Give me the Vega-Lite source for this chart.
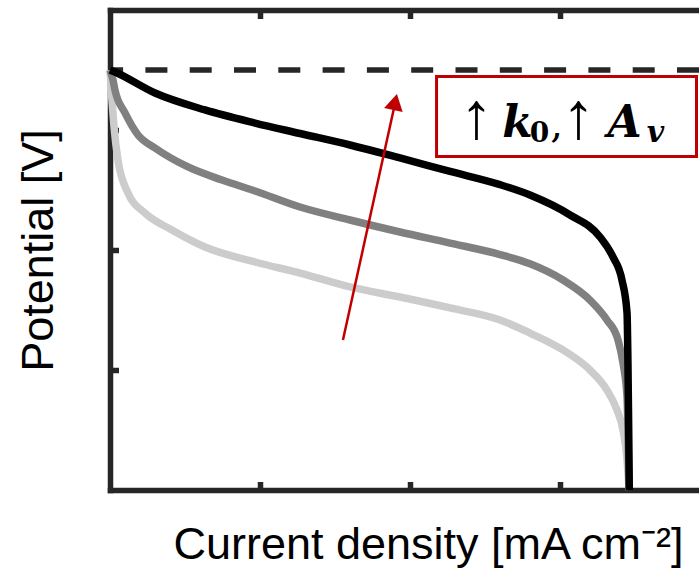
{
  "$schema": "https://vega.github.io/schema/vega-lite/v6.json",
  "width": 589,
  "height": 480,
  "autosize": {"type": "none"},
  "padding": {"left": 110, "top": 10, "right": 0, "bottom": 90},
  "background": "white",
  "config": {
    "view": {"stroke": null},
    "font": "Liberation Sans",
    "axis": {
      "domainColor": "#262626",
      "domainWidth": 5.5,
      "domainCap": "square",
      "tickColor": "#262626",
      "tickWidth": 5.5,
      "tickSize": -8.5,
      "labels": false,
      "grid": false,
      "titleFont": "Liberation Sans",
      "titleFontSize": 45,
      "titleFontWeight": "normal",
      "titleColor": "#000000"
    }
  },
  "datasets": {
    "curves": [
      {"series": "a", "j": 0, "v": 3.5},
      {"series": "a", "j": 0.013, "v": 3.25},
      {"series": "a", "j": 0.027, "v": 3.025},
      {"series": "a", "j": 0.053, "v": 2.75},
      {"series": "a", "j": 0.12, "v": 2.475},
      {"series": "a", "j": 0.233, "v": 2.308},
      {"series": "a", "j": 0.413, "v": 2.167},
      {"series": "a", "j": 0.633, "v": 2.025},
      {"series": "a", "j": 0.967, "v": 1.9},
      {"series": "a", "j": 1.267, "v": 1.808},
      {"series": "a", "j": 1.6, "v": 1.692},
      {"series": "a", "j": 1.933, "v": 1.608},
      {"series": "a", "j": 2.267, "v": 1.517},
      {"series": "a", "j": 2.6, "v": 1.417},
      {"series": "a", "j": 2.8, "v": 1.308},
      {"series": "a", "j": 3.02, "v": 1.167},
      {"series": "a", "j": 3.2, "v": 1.0},
      {"series": "a", "j": 3.313, "v": 0.833},
      {"series": "a", "j": 3.38, "v": 0.667},
      {"series": "a", "j": 3.42, "v": 0.5},
      {"series": "a", "j": 3.447, "v": 0.25},
      {"series": "a", "j": 3.46, "v": 0},
      {"series": "b", "j": 0, "v": 3.5},
      {"series": "b", "j": 0.02, "v": 3.417},
      {"series": "b", "j": 0.033, "v": 3.333},
      {"series": "b", "j": 0.1, "v": 3.142},
      {"series": "b", "j": 0.187, "v": 2.958},
      {"series": "b", "j": 0.3, "v": 2.85},
      {"series": "b", "j": 0.52, "v": 2.692},
      {"series": "b", "j": 0.747, "v": 2.583},
      {"series": "b", "j": 0.967, "v": 2.492},
      {"series": "b", "j": 1.267, "v": 2.358},
      {"series": "b", "j": 1.6, "v": 2.25},
      {"series": "b", "j": 1.933, "v": 2.15},
      {"series": "b", "j": 2.267, "v": 2.058},
      {"series": "b", "j": 2.6, "v": 1.962},
      {"series": "b", "j": 2.8, "v": 1.885},
      {"series": "b", "j": 3.02, "v": 1.75},
      {"series": "b", "j": 3.2, "v": 1.583},
      {"series": "b", "j": 3.313, "v": 1.417},
      {"series": "b", "j": 3.387, "v": 1.25},
      {"series": "b", "j": 3.42, "v": 1.058},
      {"series": "b", "j": 3.447, "v": 0.775},
      {"series": "b", "j": 3.453, "v": 0.5},
      {"series": "b", "j": 3.46, "v": 0},
      {"series": "c", "j": 0, "v": 3.5},
      {"series": "c", "j": 0.033, "v": 3.483},
      {"series": "c", "j": 0.3, "v": 3.308},
      {"series": "c", "j": 0.633, "v": 3.167},
      {"series": "c", "j": 0.967, "v": 3.058},
      {"series": "c", "j": 1.267, "v": 2.971},
      {"series": "c", "j": 1.6, "v": 2.875},
      {"series": "c", "j": 1.933, "v": 2.767},
      {"series": "c", "j": 2.267, "v": 2.655},
      {"series": "c", "j": 2.6, "v": 2.545},
      {"series": "c", "j": 2.8, "v": 2.458},
      {"series": "c", "j": 3.067, "v": 2.292},
      {"series": "c", "j": 3.267, "v": 2.108},
      {"series": "c", "j": 3.353, "v": 1.942},
      {"series": "c", "j": 3.413, "v": 1.75},
      {"series": "c", "j": 3.447, "v": 1.475},
      {"series": "c", "j": 3.453, "v": 1.058},
      {"series": "c", "j": 3.458, "v": 0.5},
      {"series": "c", "j": 3.462, "v": 0}
    ],
    "ref": [{"v": 3.5}],
    "arrow": [{"x0": 1.553, "y0": 1.25, "x1": 1.9, "y1": 3.22, "tipx": 1.901, "tipy": 3.233}],
    "box": [{"bx0": 2.177, "bx1": 3.91, "by0": 3.446, "by1": 2.779}],
    "label": [{"lx": 2.4433, "ly": 2.9417}]
  },
  "layer": [
    {
      "data": {"name": "ref"},
      "mark": {"type": "rule", "color": "#262626", "strokeWidth": 5.5, "strokeDash": [22, 22.3]},
      "encoding": {
        "y": {"field": "v", "type": "quantitative", "scale": {"domain": [0, 4], "nice": false}, "axis": null}
      }
    },
    {
      "data": {"name": "curves"},
      "mark": {"type": "line", "interpolate": "monotone", "strokeWidth": 7.5},
      "encoding": {
        "x": {
          "field": "j", "type": "quantitative",
          "scale": {"domain": [0, 3.92667], "nice": false, "zero": false},
          "axis": {"orient": "bottom", "values": [1, 2, 3], "title": "Current density [mA cm⁻²]",
                   "titleX": 318, "titleY": 68, "titleAlign": "center", "titleBaseline": "alphabetic", "titleAngle": 0}
        },
        "y": {
          "field": "v", "type": "quantitative",
          "scale": {"domain": [0, 4], "nice": false},
          "axis": {"orient": "left", "values": [1, 2, 3], "title": "Potential [V]",
                   "titleX": -58, "titleY": 240, "titleAlign": "center", "titleBaseline": "alphabetic", "titleAngle": -90}
        },
        "color": {"field": "series", "type": "nominal", "scale": {"domain": ["a", "b", "c"], "range": ["#cccccc", "#808080", "#000000"]}, "legend": null}
      }
    },
    {
      "data": {"name": "arrow"},
      "mark": {"type": "rule", "color": "#c00000", "strokeWidth": 2.5},
      "encoding": {
        "x": {"field": "x0", "type": "quantitative", "scale": {"domain": [0, 3.92667], "nice": false, "zero": false}, "axis": null},
        "y": {"field": "y0", "type": "quantitative", "scale": {"domain": [0, 4], "nice": false}, "axis": null},
        "x2": {"field": "x1"},
        "y2": {"field": "y1"}
      }
    },
    {
      "data": {"name": "arrow"},
      "mark": {"type": "point", "shape": "triangle-up", "filled": true, "color": "#c00000", "opacity": 1, "size": 361, "angle": 12.4, "strokeWidth": 0},
      "encoding": {
        "x": {"field": "tipx", "type": "quantitative", "scale": {"domain": [0, 3.92667], "nice": false, "zero": false}, "axis": null},
        "y": {"field": "tipy", "type": "quantitative", "scale": {"domain": [0, 4], "nice": false}, "axis": null}
      }
    },
    {
      "data": {"name": "box"},
      "mark": {"type": "rect", "fill": "white", "stroke": "#c00000", "strokeWidth": 3},
      "encoding": {
        "x": {"field": "bx0", "type": "quantitative", "scale": {"domain": [0, 3.92667], "nice": false, "zero": false},
              "axis": {"orient": "top", "values": [1, 2, 3], "title": null}},
        "x2": {"field": "bx1"},
        "y": {"field": "by0", "type": "quantitative", "scale": {"domain": [0, 4], "nice": false}, "axis": null},
        "y2": {"field": "by1"}
      }
    },
    {
      "data": {"name": "label"},
      "layer": [
        {"mark": {"type": "text", "text": "↑", "font": "Liberation Serif", "fontSize": 66, "align": "center", "baseline": "alphabetic", "dx": 0, "dy": 1, "color": "#000000"}},
        {"mark": {"type": "text", "text": "k", "font": "DejaVu Serif", "fontSize": 44, "fontWeight": "bold", "fontStyle": "italic", "align": "center", "baseline": "alphabetic", "dx": 41, "color": "#000000"}},
        {"mark": {"type": "text", "text": "0", "font": "DejaVu Serif", "fontSize": 28, "fontWeight": "bold", "align": "center", "baseline": "alphabetic", "dx": 63, "dy": 5, "color": "#000000"}},
        {"mark": {"type": "text", "text": ",", "font": "DejaVu Serif", "fontSize": 40, "align": "center", "baseline": "alphabetic", "dx": 80, "color": "#000000"}},
        {"mark": {"type": "text", "text": "↑", "font": "Liberation Serif", "fontSize": 66, "align": "center", "baseline": "alphabetic", "dx": 102, "dy": 1, "color": "#000000"}},
        {"mark": {"type": "text", "text": "A", "font": "DejaVu Serif", "fontSize": 44, "fontWeight": "bold", "fontStyle": "italic", "align": "center", "baseline": "alphabetic", "dx": 148, "color": "#000000"}},
        {"mark": {"type": "text", "text": "v", "font": "DejaVu Serif", "fontSize": 30, "fontWeight": "bold", "fontStyle": "italic", "align": "center", "baseline": "alphabetic", "dx": 179, "dy": 5, "color": "#000000"}}
      ],
      "encoding": {
        "x": {"field": "lx", "type": "quantitative", "scale": {"domain": [0, 3.92667], "nice": false, "zero": false}, "axis": null},
        "y": {"field": "ly", "type": "quantitative", "scale": {"domain": [0, 4], "nice": false}, "axis": null}
      }
    }
  ],
  "resolve": {"axis": {"x": "independent", "y": "independent"}}
}
